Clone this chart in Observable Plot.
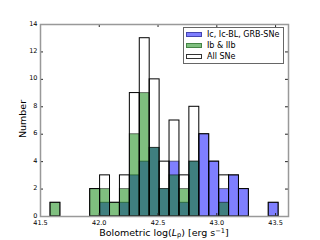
<!DOCTYPE html>
<html>
<head>
<meta charset="utf-8">
<script src="https://cdn.jsdelivr.net/npm/d3@7"></script>
<script src="https://cdn.jsdelivr.net/npm/@observablehq/plot@0.6"></script>
<style>
  html, body { margin: 0; padding: 0; background: #fff; }
  #wrap { position: relative; width: 320px; height: 240px; font-family: "DejaVu Sans", sans-serif; color: #000; }
  #wrap svg { position: absolute; left: 0; top: 0; }
  .ov { position: absolute; white-space: nowrap; line-height: 1; }
  .sw { position: absolute; box-sizing: border-box; }
</style>
</head>
<body>
<div id="wrap"></div>
<script>
// ---- data ----
const binStart = 41.585;      // left edge of first bin, log(Lp)
const binWidth = 0.0844;      // bin width, dex
const icGroup = [0,0,0,0,0,1,0,1,3,4,5,2,4,1,4,6,4,2,3,2,0,0,1]; // Ic, Ic-BL, GRB-SNe
const ibIIb   = [1,0,0,0,2,2,1,2,6,9,5,2,3,2,4,0,0,1,0,0,0,0,0]; // Ib & IIb
const allSNe  = [1,0,0,0,2,3,1,3,9,13,10,4,7,3,8,6,4,3,3,2,0,0,1]; // All SNe
const xTicks = [41.5, 42.0, 42.5, 43.0, 43.5];
const yTicks = [0, 2, 4, 6, 8, 10, 12, 14];
const seriesNames = ["Ic, Ic-BL, GRB-SNe", "Ib & IIb", "All SNe"];
const xLabelHTML = 'Bolometric log(<i>L</i><sub style="font-size:0.7em;vertical-align:-0.2em;line-height:0">p</sub>) [erg s<sup style="font-size:0.7em;vertical-align:0.4em;line-height:0">\u22121</sup>]';
const yLabel = "Number";

const toRows = arr => arr.map((n, i) => ({x1: binStart + i * binWidth, x2: binStart + (i + 1) * binWidth, n})).filter(d => d.n > 0);

const W = 320, H = 240, mL = 40, mR = 32, mT = 24, mB = 24;
const innerW = W - mL - mR, innerH = H - mT - mB;
const tickLen = 3;

const chart = Plot.plot({
  width: W, height: H,
  marginLeft: mL, marginRight: mR, marginTop: mT, marginBottom: mB,
  style: {fontFamily: "DejaVu Sans, sans-serif", background: "white", color: "black"},
  x: {domain: [41.5, 43.61]},
  y: {domain: [0, 14]},
  marks: [
    Plot.rectY(toRows(icGroup), {x1: "x1", x2: "x2", y: "n", fill: "#0000ff", fillOpacity: 0.5, stroke: "black", strokeOpacity: 0.5, strokeWidth: 1}),
    Plot.rectY(toRows(ibIIb), {x1: "x1", x2: "x2", y: "n", fill: "#008000", fillOpacity: 0.5, stroke: "black", strokeOpacity: 0.5, strokeWidth: 1}),
    Plot.rectY(toRows(allSNe), {x1: "x1", x2: "x2", y: "n", fill: "none", stroke: "black", strokeWidth: 1}),
    // inward ticks on all four sides
    Plot.tickX(xTicks, {x: d => d, insetTop: innerH - tickLen, stroke: "#222"}),
    Plot.tickX(xTicks, {x: d => d, insetBottom: innerH - tickLen, stroke: "#222"}),
    Plot.tickY(yTicks, {y: d => d, insetRight: innerW - tickLen, stroke: "#222"}),
    Plot.tickY(yTicks, {y: d => d, insetLeft: innerW - tickLen, stroke: "#222"}),
    Plot.axisX(xTicks, {tickSize: 0, tickPadding: 3.5, fontSize: 6.5, tickFormat: d => d.toFixed(1), label: null}),
    Plot.axisY(yTicks, {tickSize: 0, tickPadding: 3, fontSize: 6.5, dy: -1, tickFormat: d => String(d), label: null}),
    Plot.frame({stroke: "#999", strokeWidth: 1.5})
  ]
});

const wrap = document.getElementById("wrap");
wrap.appendChild(chart);

// x label
const xl = document.createElement("div");
xl.className = "ov";
xl.style.cssText = "left:164px;top:228px;font-size:9.5px;transform:translateX(-50%);";
xl.innerHTML = xLabelHTML;
wrap.appendChild(xl);

// y label
const yl = document.createElement("div");
yl.className = "ov";
yl.style.cssText = "left:22.5px;top:119px;font-size:9.5px;transform:translate(-50%,-50%) rotate(-90deg);";
yl.textContent = yLabel;
wrap.appendChild(yl);

// legend (inside the axes, upper right)
const box = document.createElement("div");
box.style.cssText = "position:absolute;left:183px;top:27px;width:101px;height:37px;box-sizing:border-box;border:1px solid #666;background:#fff;";
wrap.appendChild(box);
const swatchStyles = [
  "background:rgba(0,0,255,0.5);border:1px solid rgba(0,0,80,0.45);",
  "background:rgba(0,128,0,0.5);border:1px solid rgba(0,60,0,0.45);",
  "background:#fff;border:1px solid #333;"
];
const rowCenters = [34.5, 45.5, 56.7];
seriesNames.forEach((name, i) => {
  const sw = document.createElement("div");
  sw.className = "sw";
  sw.style.cssText = `left:186px;top:${rowCenters[i] - 2.5}px;width:16px;height:5px;` + swatchStyles[i];
  wrap.appendChild(sw);
  const t = document.createElement("div");
  t.className = "ov";
  t.style.cssText = `left:207px;top:${rowCenters[i]}px;font-size:8px;transform:translateY(-50%);`;
  t.textContent = name;
  wrap.appendChild(t);
});
</script>
</body>
</html>
